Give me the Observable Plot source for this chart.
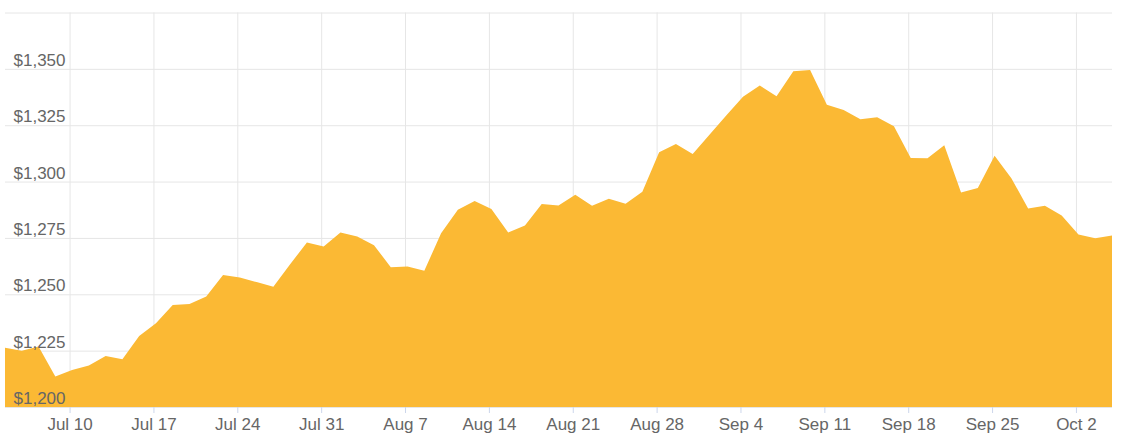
<!DOCTYPE html>
<html>
<head>
<meta charset="utf-8">
<script src="https://cdn.jsdelivr.net/npm/d3@7"></script>
<script src="https://cdn.jsdelivr.net/npm/@observablehq/plot@0.6"></script>
<style>
  html, body { margin: 0; padding: 0; background: #ffffff; }
  #chart svg { display: block; }
</style>
</head>
<body>
<div id="chart"></div>
<script>
// Trading days (weekdays) shown on the ordinal time axis
const dates = [
  "2017-07-04","2017-07-05","2017-07-06","2017-07-07",
  "2017-07-10","2017-07-11","2017-07-12","2017-07-13","2017-07-14",
  "2017-07-17","2017-07-18","2017-07-19","2017-07-20","2017-07-21",
  "2017-07-24","2017-07-25","2017-07-26","2017-07-27","2017-07-28",
  "2017-07-31","2017-08-01","2017-08-02","2017-08-03","2017-08-04",
  "2017-08-07","2017-08-08","2017-08-09","2017-08-10","2017-08-11",
  "2017-08-14","2017-08-15","2017-08-16","2017-08-17","2017-08-18",
  "2017-08-21","2017-08-22","2017-08-23","2017-08-24","2017-08-25",
  "2017-08-28","2017-08-29","2017-08-30","2017-08-31","2017-09-01",
  "2017-09-04","2017-09-05","2017-09-06","2017-09-07","2017-09-08",
  "2017-09-11","2017-09-12","2017-09-13","2017-09-14","2017-09-15",
  "2017-09-18","2017-09-19","2017-09-20","2017-09-21","2017-09-22",
  "2017-09-25","2017-09-26","2017-09-27","2017-09-28","2017-09-29",
  "2017-10-02","2017-10-03","2017-10-04"
];

// Price (USD)
const prices = [
  1226.3, 1224.9, 1226.8, 1213.5,
  1216.4, 1218.4, 1222.6, 1221.2, 1231.5,
  1237.2, 1245.2, 1245.7, 1249.0, 1258.5,
  1257.4, 1255.4, 1253.3, 1263.3, 1273.0,
  1271.2, 1277.4, 1275.6, 1271.8, 1262.0,
  1262.3, 1260.4, 1277.1, 1287.5, 1291.4,
  1287.8, 1277.4, 1280.5, 1290.0, 1289.4,
  1294.2, 1289.3, 1292.4, 1290.2, 1295.5,
  1313.0, 1316.7, 1312.2, 1320.8, 1329.3,
  1337.6, 1342.6, 1337.8, 1348.9, 1349.5,
  1334.1, 1331.8, 1327.6, 1328.5, 1324.5,
  1310.5, 1310.4, 1316.1, 1295.2, 1297.1,
  1311.5, 1301.5, 1288.0, 1289.3, 1285.0,
  1276.5, 1274.9, 1276.1
];

// Y gridlines and labelled y ticks
const yGrid = [1200, 1225, 1250, 1275, 1300, 1325, 1350, 1375];
const yLabels = [1200, 1225, 1250, 1275, 1300, 1325, 1350];

const data = dates.map((d, i) => ({ i, date: new Date(d + "T00:00:00Z"), price: prices[i] }));

// ticks at Mondays (tick sits slightly before the day's data point)
const tickShift = -0.15;
const mondays = data.filter(d => d.date.getUTCDay() === 1);
const xTicks = mondays.map(d => d.i + tickShift);
const fmtDate = d3.utcFormat("%b %-d");
const fmtPrice = d3.format("$,");

const chart = Plot.plot({
  width: 1129,
  height: 442,
  marginLeft: 5,
  marginRight: 17,
  marginTop: 12.5,
  marginBottom: 35,
  style: {
    fontFamily: "'Liberation Sans', Arial, Helvetica, sans-serif",
    fontSize: "17px",
    color: "#666666",
    background: "#ffffff",
    overflow: "visible"
  },
  x: { type: "linear", domain: [0, dates.length - 1], axis: null },
  y: { domain: [1200, 1375], axis: null },
  marks: [
    Plot.gridY(yGrid, { stroke: "#e6e6e6", strokeOpacity: 1 }),
    Plot.gridX(xTicks, { stroke: "#e6e6e6", strokeOpacity: 1 }),
    Plot.areaY(data, { x: "i", y: "price", fill: "#fbb934", clip: true }),
    Plot.axisX(xTicks, {
      tickSize: 6,
      tickPadding: 4,
      stroke: "#ccd6eb",
      fill: "#666666",
      label: null,
      tickFormat: t => fmtDate(data[Math.round(t)].date)
    }),
    Plot.text(yLabels, {
      y: d => d,
      frameAnchor: "left",
      dx: 8,
      dy: -3.5,
      textAnchor: "start",
      lineAnchor: "bottom",
      text: d => fmtPrice(d),
      fill: "#666666"
    })
  ]
});

document.getElementById("chart").appendChild(chart);
</script>
</body>
</html>
